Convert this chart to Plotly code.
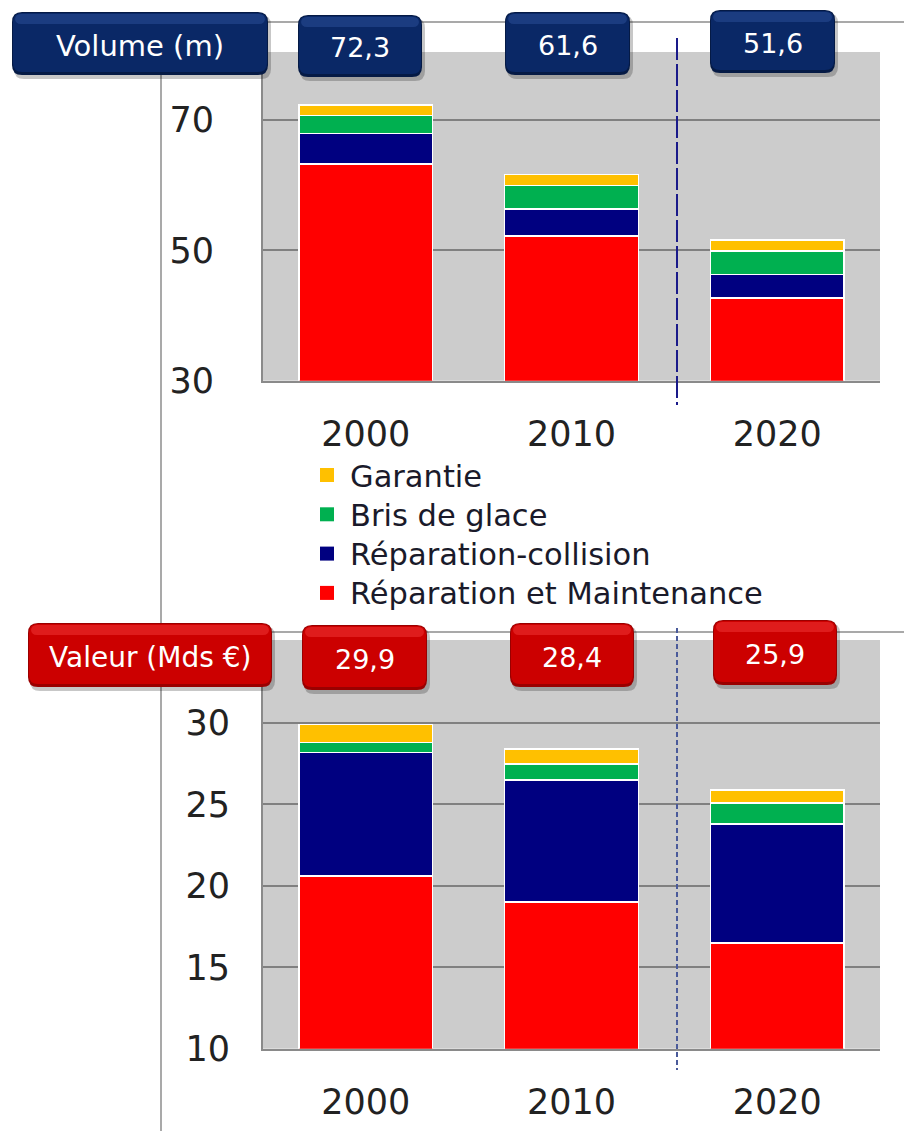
import plotly.graph_objects as go
from plotly.subplots import make_subplots

# ---------------- data ----------------
years = ["2000", "2010", "2020"]
series_names = ["Réparation et Maintenance", "Réparation-collision", "Bris de glace", "Garantie"]
series_colors = ["#ff0000", "#000080", "#00b050", "#ffc000"]

volume_maintenance = [63.2, 52.2, 42.7]
volume_collision = [4.7, 4.1, 3.6]
volume_glace = [2.8, 3.6, 3.6]
volume_garantie = [1.6, 1.7, 1.7]

valeur_maintenance = [20.6, 19.0, 16.5]
valeur_collision = [7.6, 7.5, 7.3]
valeur_glace = [0.6, 1.0, 1.3]
valeur_garantie = [1.1, 0.9, 0.8]

volume_ticks = [30, 50, 70]
valeur_ticks = [10, 15, 20, 25, 30]
volume_label = "Volume (m)"
valeur_label = "Valeur (Mds €)"

volume_series = [volume_maintenance, volume_collision, volume_glace, volume_garantie]
valeur_series = [valeur_maintenance, valeur_collision, valeur_glace, valeur_garantie]

# ---------------- layout helpers ----------------
W, H = 904, 1131
def X(px):
    return px / W
def Y(py):
    return 1 - py / H

FONT = "DejaVu Sans"

fig = make_subplots(rows=2, cols=1, shared_xaxes=False, vertical_spacing=0.05)

for i, (name, col) in enumerate(zip(series_names, series_colors)):
    fig.add_trace(go.Bar(x=years, y=volume_series[i], name=name, marker_color=col,
                         marker_line_color="white", marker_line_width=1.5,
                         showlegend=False), row=1, col=1)
for i, (name, col) in enumerate(zip(series_names, series_colors)):
    fig.add_trace(go.Bar(x=years, y=valeur_series[i], name=name, marker_color=col,
                         marker_line_color="white", marker_line_width=1.5,
                         showlegend=False), row=2, col=1)

volume_totals = [sum(v) for v in zip(*volume_series)]
valeur_totals = [sum(v) for v in zip(*valeur_series)]

xdom = [X(263), X(880)]
axis_common = dict(showline=True, linecolor="#8a8a8a", linewidth=2, automargin=False,
                   tickfont=dict(family=FONT, size=35, color="#222222"))

fig.update_layout(
    width=W, height=H,
    autosize=False,
    margin=dict(l=0, r=0, t=0, b=0, pad=0),
    paper_bgcolor="white",
    plot_bgcolor="#cccccc",
    barmode="stack",
    bargap=0.35,
    showlegend=False,
    xaxis=dict(domain=xdom, anchor="y", ticks="", ticklabelstandoff=21, **axis_common),
    yaxis=dict(domain=[Y(380.7), Y(52)], anchor="x", range=[30, 80.4],
               tickvals=volume_ticks, ticks="", ticklabelstandoff=40,
               showgrid=True, gridcolor="#808080", gridwidth=2, zeroline=False, **axis_common),
    xaxis2=dict(domain=xdom, anchor="y2", ticks="", ticklabelstandoff=21, **axis_common),
    yaxis2=dict(domain=[Y(1048.7), Y(640)], anchor="x2", range=[10, 35.1],
                tickvals=valeur_ticks, ticks="", ticklabelstandoff=24,
                showgrid=True, gridcolor="#808080", gridwidth=2, zeroline=False, **axis_common),
)

shapes = []
annotations = []

# decorative guide lines
shapes.append(dict(type="line", xref="paper", yref="paper", x0=X(200), x1=X(904), y0=Y(22), y1=Y(22),
                   line=dict(color="#8c8c8c", width=1.5)))
shapes.append(dict(type="line", xref="paper", yref="paper", x0=X(200), x1=X(904), y0=Y(632), y1=Y(632),
                   line=dict(color="#8c8c8c", width=1.5)))
shapes.append(dict(type="line", xref="paper", yref="paper", x0=X(161), x1=X(161), y0=Y(60), y1=Y(1131),
                   line=dict(color="#8c8c8c", width=1.5)))
# dashed separators
shapes.append(dict(type="line", xref="paper", yref="paper", x0=X(677), x1=X(677), y0=Y(38), y1=Y(405),
                   line=dict(color="#1a1a8a", width=2, dash="22px,4px")))
shapes.append(dict(type="line", xref="paper", yref="paper", x0=X(677), x1=X(677), y0=Y(628), y1=Y(1070),
                   line=dict(color="#4a5a9a", width=2, dash="5px,3px")))

# legend (top entry = last series)
leg_x_sq, leg_x_txt, leg_y0, leg_dy, sq = 320, 348, 475, 39.3, 14
for k, (name, col) in enumerate(zip(series_names[::-1], series_colors[::-1])):
    cy = leg_y0 + k * leg_dy
    shapes.append(dict(type="rect", xref="paper", yref="paper",
                       x0=X(leg_x_sq), x1=X(leg_x_sq + sq), y0=Y(cy - sq / 2), y1=Y(cy + sq / 2),
                       fillcolor=col, line=dict(width=0)))
    annotations.append(dict(xref="paper", yref="paper", x=X(leg_x_txt), y=Y(cy + 1), text=name,
                            showarrow=False, xanchor="left", yanchor="middle",
                            font=dict(family=FONT, size=30.5, color="#1a1a2a")))


def rrect(x0, y0, x1, y1, r):
    return (f"M {X(x0 + r)},{Y(y0)} L {X(x1 - r)},{Y(y0)} Q {X(x1)},{Y(y0)} {X(x1)},{Y(y0 + r)} "
            f"L {X(x1)},{Y(y1 - r)} Q {X(x1)},{Y(y1)} {X(x1 - r)},{Y(y1)} "
            f"L {X(x0 + r)},{Y(y1)} Q {X(x0)},{Y(y1)} {X(x0)},{Y(y1 - r)} "
            f"L {X(x0)},{Y(y0 + r)} Q {X(x0)},{Y(y0)} {X(x0 + r)},{Y(y0)} Z")


def badge(x0, y0, x1, y1, text, base, light, dark, size):
    shapes.append(dict(type="path", xref="paper", yref="paper", path=rrect(x0 + 2, y0 + 3, x1 + 3, y1 + 4, 10),
                       fillcolor="rgba(0,0,0,0.22)", line=dict(width=0), layer="above"))
    shapes.append(dict(type="path", xref="paper", yref="paper", path=rrect(x0, y0, x1, y1, 10),
                       fillcolor=dark, line=dict(width=0), layer="above"))
    shapes.append(dict(type="path", xref="paper", yref="paper", path=rrect(x0 + 1, y0 + 1, x1 - 1, y1 - 3, 9),
                       fillcolor=base, line=dict(width=0), layer="above"))
    shapes.append(dict(type="path", xref="paper", yref="paper", path=rrect(x0 + 3, y0 + 2, x1 - 3, y0 + 12, 6),
                       fillcolor=light, opacity=0.55, line=dict(width=0), layer="above"))
    annotations.append(dict(xref="paper", yref="paper", x=X((x0 + x1) / 2), y=Y((y0 + y1) / 2 + 2),
                            text=text, showarrow=False, xanchor="center", yanchor="middle",
                            font=dict(family=FONT, size=size, color="white")))


def fmt(v):
    return f"{v:.1f}".replace(".", ",")

NAVY = ("#0a2866", "#2a4c95", "#051a45")
RED = ("#cc0000", "#ee3333", "#9a0000")

badge(12, 12, 268, 75, volume_label, *NAVY, 29)
top_boxes = [(298, 15, 422, 77), (505, 12, 630, 75), (710, 10, 835, 73)]
for (bx0, by0, bx1, by1), tot in zip(top_boxes, volume_totals):
    badge(bx0, by0, bx1, by1, fmt(tot), *NAVY, 27)

badge(28, 623, 272, 687, valeur_label, *RED, 28)
bot_boxes = [(302, 625, 427, 690), (510, 623, 634, 687), (713, 620, 837, 685)]
for (bx0, by0, bx1, by1), tot in zip(bot_boxes, valeur_totals):
    badge(bx0, by0, bx1, by1, fmt(tot), *RED, 27)

fig.update_layout(shapes=shapes, annotations=annotations)

fig.write_html("out.html", config={"displayModeBar": False},
               post_script="document.body.style.margin='0';document.body.style.padding='0';")
